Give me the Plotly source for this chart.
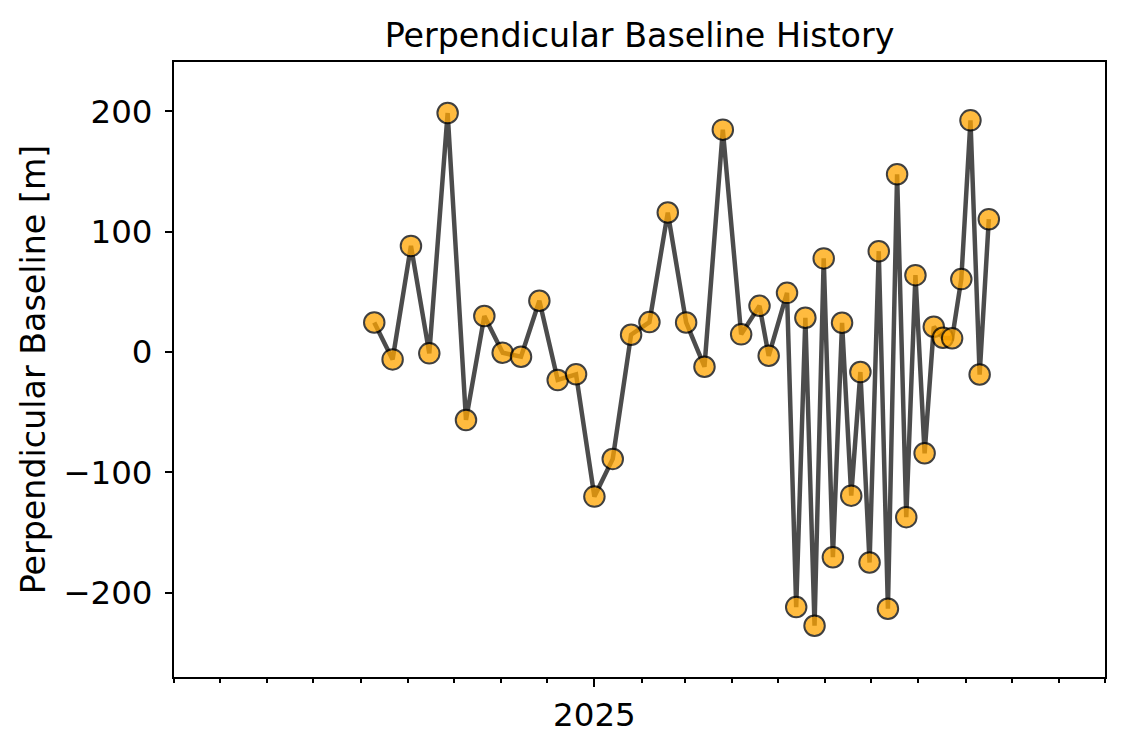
import plotly.graph_objects as go

# Acquisition dates
dates = [
    "2024-08-10", "2024-08-22", "2024-09-03", "2024-09-15", "2024-09-27",
    "2024-10-09", "2024-10-21", "2024-11-02", "2024-11-14", "2024-11-26",
    "2024-12-08", "2024-12-20", "2025-01-01", "2025-01-13", "2025-01-25",
    "2025-02-06", "2025-02-18", "2025-03-02", "2025-03-14", "2025-03-26",
    "2025-04-07", "2025-04-19", "2025-04-25", "2025-05-07", "2025-05-13",
    "2025-05-19", "2025-05-25", "2025-05-31", "2025-06-06", "2025-06-12",
    "2025-06-18", "2025-06-24", "2025-06-30", "2025-07-06", "2025-07-12",
    "2025-07-18", "2025-07-24", "2025-07-30", "2025-08-05", "2025-08-11",
    "2025-08-17", "2025-08-23", "2025-08-29", "2025-09-04", "2025-09-10",
    "2025-09-16",
]

# Perpendicular baseline values [m]
bperp = [
    24.6, -6.1, 88.2, -1.1, 198.6,
    -56.4, 29.9, -0.6, -3.9, 42.6,
    -23.2, -18.5, -120.1, -88.8, 14.4,
    24.9, 115.9, 24.6, -12.2, 184.8,
    14.7, 38.4, -3.1, 49.2, -211.9,
    28.5, -227.4, 77.8, -170.5, 24.3,
    -119.3, -16.6, -174.9, 83.8, -213.3,
    147.7, -137.2, 63.9, -84.1, 21.0,
    11.9, 11.4, 60.6, 192.5, -18.7,
    110.4,
]

# Axis settings
x_range = ["2024-04-01", "2025-12-01"]
y_range = [-270, 241]
y_ticks = [-200, -100, 0, 100, 200]
x_tickvals = ["2025-01-01"]
x_ticktext = ["2025"]

FONT = "DejaVu Sans"

fig = go.Figure()

# line (drawn beneath markers)
fig.add_trace(go.Scatter(
    x=dates, y=bperp, mode="lines",
    line=dict(color="rgba(0,0,0,0.7)", width=4.5),
    hoverinfo="skip", showlegend=False,
))
# markers
fig.add_trace(go.Scatter(
    x=dates, y=bperp, mode="markers",
    marker=dict(size=20.5, color="#FFA500", opacity=0.75,
                line=dict(color="black", width=2)),
    showlegend=False,
))

fig.update_layout(
    width=1117, height=742,
    margin=dict(l=166, r=20, t=54, b=73),
    paper_bgcolor="white", plot_bgcolor="white",
    font=dict(family=FONT, size=32, color="black"),
    title=dict(text="Perpendicular Baseline History", x=0.5, xanchor="center",
               xref="paper", y=1, yref="paper", yanchor="bottom",
               pad=dict(b=15), font=dict(family=FONT, size=33.3, color="black")),
)

fig.update_xaxes(
    type="date", range=x_range,
    tickmode="array", tickvals=x_tickvals, ticktext=x_ticktext,
    ticks="outside", ticklen=8, tickwidth=2, tickcolor="black",
    showgrid=False, zeroline=False,
    showline=True, linewidth=2, linecolor="black", mirror=True,
    tickfont=dict(family=FONT, size=32.5, color="black"),
    minor=dict(dtick="M1", tick0="2024-04-01", ticks="outside", ticklen=4,
               tickwidth=1.5, tickcolor="black", showgrid=False),
)
fig.update_yaxes(
    range=y_range, tickmode="array", tickvals=y_ticks,
    ticks="outside", ticklen=7, tickwidth=2, tickcolor="black",
    ticklabelstandoff=6,
    showgrid=False, zeroline=False,
    showline=True, linewidth=2, linecolor="black", mirror=True,
    tickfont=dict(family=FONT, size=32.5, color="black"),
    title=dict(text="Perpendicular Baseline [m]", standoff=8,
               font=dict(family=FONT, size=33.3, color="black")),
)

fig.write_html("out.html")
